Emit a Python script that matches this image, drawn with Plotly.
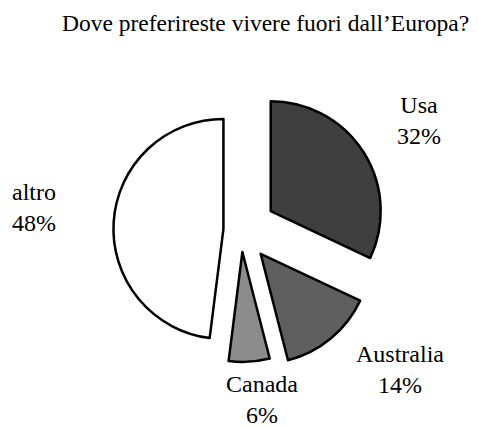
import plotly.graph_objects as go

title = "Dove preferireste vivere fuori dall\u2019Europa?"
labels = ["Usa", "Australia", "Canada", "altro"]
values = [32, 14, 6, 48]
colors = ["#3f3f3f", "#5f5f5f", "#8c8c8c", "#ffffff"]
pulls = [0.32, 0.28, 0.20, 0.16]

W, H = 478, 427
font_family = "Liberation Serif"

fig = go.Figure(
    go.Pie(
        labels=labels,
        values=values,
        sort=False,
        direction="clockwise",
        rotation=0,
        pull=pulls,
        textinfo="none",
        hoverinfo="label+percent",
        marker=dict(colors=colors, line=dict(color="black", width=2.5)),
        domain=dict(x=[0.1837, 0.7912], y=[0.140, 0.820]),
        showlegend=False,
    )
)

# label positions (paper coordinates, layout only)
label_pos = [(411 / W, 1 - 112 / H), (392 / W, 1 - 361 / H), (254 / W, 1 - 391 / H), (26 / W, 1 - 199 / H)]
total = sum(values)
for lab, val, (lx, ly) in zip(labels, values, label_pos):
    fig.add_annotation(
        x=lx, y=ly, xref="paper", yref="paper",
        text=f"{lab}<br>{round(100 * val / total)}%",
        showarrow=False, xanchor="center", yanchor="middle",
        font=dict(family=font_family, size=24, color="black"),
    )

# title as a paper annotation so its box stays inside the page
fig.add_annotation(
    x=257 / W, y=1.0, xref="paper", yref="paper",
    text=title, showarrow=False, xanchor="center", yanchor="top",
    font=dict(family=font_family, size=23.5, color="black"),
)

fig.update_layout(
    width=W, height=H,
    margin=dict(l=0, r=0, t=0, b=0),
    paper_bgcolor="white", plot_bgcolor="white",
)

fig.write_html("out.html")
